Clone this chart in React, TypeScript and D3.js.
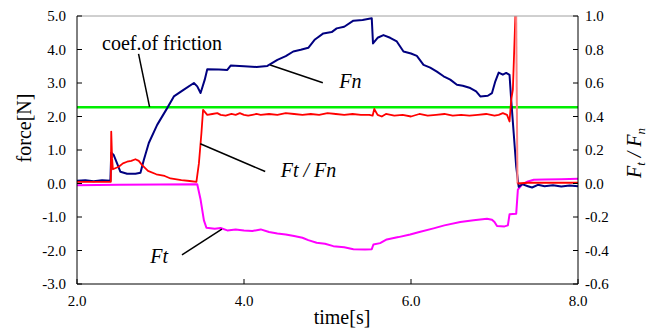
import React from "react";
import * as d3 from "d3";

// time [s], force [N]
const fnData: [number, number][] = [
  [2.0, 0.08], [2.1, 0.1], [2.2, 0.07], [2.3, 0.1], [2.4, 0.08],
  [2.41, 0.92], [2.44, 0.85], [2.48, 0.6], [2.52, 0.35], [2.6, 0.29],
  [2.7, 0.29], [2.76, 0.32], [2.8, 0.7], [2.86, 1.21], [2.96, 1.75],
  [3.08, 2.25], [3.16, 2.6], [3.28, 2.8], [3.4, 3.0], [3.44, 2.9],
  [3.48, 2.7], [3.53, 3.1], [3.56, 3.41], [3.7, 3.4], [3.8, 3.39],
  [3.84, 3.52], [4.0, 3.5], [4.15, 3.48], [4.28, 3.51], [4.4, 3.69],
  [4.5, 3.8], [4.59, 3.94], [4.68, 3.99], [4.77, 4.05], [4.85, 4.3],
  [4.95, 4.48], [5.05, 4.52], [5.11, 4.63], [5.2, 4.68], [5.31, 4.86],
  [5.42, 4.88], [5.53, 4.93], [5.545, 4.18], [5.6, 4.35], [5.67, 4.43],
  [5.75, 4.35], [5.83, 4.24], [5.91, 3.94], [6.0, 3.88], [6.07, 3.81],
  [6.15, 3.54], [6.23, 3.46], [6.31, 3.34], [6.39, 3.2], [6.47, 3.1],
  [6.55, 2.95], [6.62, 2.92], [6.71, 2.85], [6.78, 2.75], [6.83, 2.6],
  [6.92, 2.62], [6.97, 2.7], [7.01, 3.05], [7.05, 3.31], [7.1, 3.25],
  [7.14, 3.3], [7.18, 3.24], [7.2, 2.5], [7.23, 1.5], [7.26, 0.5],
  [7.29, -0.1], [7.33, -0.02], [7.4, -0.08], [7.45, -0.12], [7.52, -0.04],
  [7.6, -0.08], [7.7, -0.05], [7.8, -0.09], [7.9, -0.06], [8.0, -0.08],
];

// time [s], Ft/Fn [-]
const ratioData: [number, number][] = [
  [2.0, 0.01], [2.2, 0.01], [2.405, 0.01], [2.41, 0.31], [2.42, 0.15],
  [2.43, 0.085], [2.5, 0.1], [2.55, 0.12], [2.6, 0.13], [2.65, 0.135],
  [2.7, 0.145], [2.74, 0.135], [2.78, 0.11], [2.85, 0.075], [2.95, 0.055],
  [3.05, 0.045], [3.12, 0.03], [3.25, 0.02], [3.35, 0.015], [3.43, 0.01],
  [3.46, 0.12], [3.49, 0.3], [3.51, 0.44], [3.56, 0.41], [3.62, 0.415],
  [3.68, 0.42], [3.72, 0.41], [3.78, 0.405], [3.85, 0.415], [3.9, 0.41],
  [3.95, 0.42], [4.0, 0.41], [4.05, 0.405], [4.1, 0.41], [4.15, 0.415],
  [4.2, 0.41], [4.3, 0.415], [4.4, 0.41], [4.5, 0.42], [4.6, 0.415],
  [4.7, 0.41], [4.8, 0.415], [4.9, 0.41], [5.0, 0.42], [5.1, 0.415],
  [5.2, 0.41], [5.3, 0.415], [5.4, 0.41], [5.5, 0.41], [5.54, 0.405],
  [5.56, 0.445], [5.6, 0.41], [5.65, 0.4], [5.7, 0.415], [5.8, 0.405],
  [5.9, 0.41], [6.0, 0.4], [6.1, 0.415], [6.2, 0.405], [6.3, 0.41],
  [6.4, 0.415], [6.5, 0.405], [6.6, 0.41], [6.7, 0.405], [6.8, 0.41],
  [6.9, 0.415], [7.0, 0.405], [7.05, 0.41], [7.1, 0.42], [7.15, 0.41],
  [7.18, 0.37], [7.2, 0.5], [7.22, 0.56], [7.25, 1.0], [7.258, 1.1],
  [7.275, 0.0], [7.4, 0.005], [7.6, 0.005], [7.8, 0.005], [8.0, 0.005],
];

// time [s], force [N]
const ftData: [number, number][] = [
  [2.0, -0.05], [2.5, -0.04], [3.0, -0.03], [3.44, -0.02], [3.48, -0.48],
  [3.52, -1.1], [3.55, -1.32], [3.65, -1.35], [3.72, -1.33], [3.8, -1.4],
  [3.9, -1.37], [4.0, -1.4], [4.1, -1.42], [4.2, -1.37], [4.3, -1.45],
  [4.4, -1.49], [4.5, -1.52], [4.6, -1.57], [4.7, -1.62], [4.77, -1.69],
  [4.87, -1.77], [4.97, -1.8], [5.07, -1.87], [5.2, -1.9], [5.31, -1.96],
  [5.45, -1.97], [5.53, -1.96], [5.55, -1.82], [5.63, -1.78], [5.71, -1.67],
  [5.85, -1.6], [5.99, -1.52], [6.1, -1.45], [6.27, -1.34], [6.4, -1.25],
  [6.59, -1.15], [6.75, -1.1], [6.91, -1.05], [6.97, -1.08], [7.0, -1.15],
  [7.03, -1.27], [7.12, -1.28], [7.16, -1.25], [7.18, -0.92], [7.26, -0.9],
  [7.28, -0.18], [7.33, -0.03], [7.4, 0.06], [7.47, 0.11], [7.6, 0.12],
  [7.8, 0.13], [8.0, 0.14],
];

const coefFriction = 0.455;

const xTicks = [2, 4, 6, 8];
const leftTicks = [-3, -2, -1, 0, 1, 2, 3, 4, 5];
const rightTicks = [-0.6, -0.4, -0.2, 0, 0.2, 0.4, 0.6, 0.8, 1.0];

// labels with leader lines, in data units (time, force)
const notes = [
  { text: "coef.of friction", italic: false, tx: 2.3, ty: 3.99, from: [2.737, 3.87], to: [2.869, 2.29] },
  { text: "Fn", italic: true, tx: 5.14, ty: 2.86, from: [4.314, 3.537], to: [4.944, 3.01] },
  { text: "Ft / Fn", italic: true, tx: 4.44, ty: 0.2, from: [3.476, 1.185], to: [4.254, 0.358] },
  { text: "Ft", italic: true, tx: 2.877, ty: -2.36, from: [3.257, -2.13], to: [3.735, -1.36] },
];

const W = 661;
const H = 331;
const left = 77;
const right = 578;
const top = 16;
const bottom = 284;
const fmt = (v: number) => d3.format(".1f")(v).replace("\u2212", "-");

export default function App() {
  const x = d3.scaleLinear().domain([2, 8]).range([left, right]);
  const yL = d3.scaleLinear().domain([-3, 5]).range([bottom, top]);
  const yR = d3.scaleLinear().domain([-0.6, 1.0]).range([bottom, top]);

  const lineL = d3.line<[number, number]>().x((d) => x(d[0])).y((d) => yL(d[1]));
  const lineR = d3.line<[number, number]>().x((d) => x(d[0])).y((d) => yR(d[1]));

  // the drop after the ratio spike is drawn lighter
  const peak = d3.maxIndex(ratioData, (d) => d[1]);
  const ratioA = ratioData.slice(0, peak + 1);
  const ratioDrop = ratioData.slice(peak, peak + 2);
  const ratioB = ratioData.slice(peak + 1);

  return (
    <svg width={W} height={H}
      style={{ position: "absolute", left: 0, top: 0, background: "#fff", fontFamily: "Liberation Serif" }}>
      <defs>
        <clipPath id="plot">
          <rect x={left} y={top} width={right - left} height={bottom - top} />
        </clipPath>
      </defs>

      <g clipPath="url(#plot)" fill="none" strokeLinejoin="round">
        <line x1={left} x2={right} y1={yR(coefFriction)} y2={yR(coefFriction)} stroke="#00ee00" strokeWidth={2.5} />
        <path d={lineL(ftData) ?? ""} stroke="#ff00ff" strokeWidth={2} />
        <path d={lineL(fnData) ?? ""} stroke="#000080" strokeWidth={2} />
        <path d={lineR(ratioA) ?? ""} stroke="#ff0000" strokeWidth={1.8} />
        <path d={lineR(ratioDrop) ?? ""} stroke="#ff8080" strokeWidth={2} />
        <path d={lineR(ratioB) ?? ""} stroke="#ff0000" strokeWidth={2} />
      </g>

      {/* frame */}
      <line x1={left} x2={right} y1={top} y2={top} stroke="#a0a0a0" />
      <line x1={left} x2={left} y1={top} y2={bottom} stroke="#000" />
      <line x1={right} x2={right} y1={top} y2={bottom} stroke="#000" />
      <line x1={left} x2={right} y1={bottom} y2={bottom} stroke="#000" />

      {leftTicks.map((t) => (
        <g key={"l" + t}>
          <line x1={left} x2={left + 5} y1={yL(t)} y2={yL(t)} stroke="#000" />
          <text x={left - 11} y={yL(t)} dy="0.35em" textAnchor="end" fontSize={15}>{fmt(t)}</text>
        </g>
      ))}
      {rightTicks.map((t) => (
        <g key={"r" + t}>
          <line x1={right - 5} x2={right} y1={yR(t)} y2={yR(t)} stroke="#000" />
          <text x={right + 7} y={yR(t)} dy="0.35em" fontSize={15}>{fmt(t)}</text>
        </g>
      ))}
      {xTicks.map((t) => (
        <g key={"x" + t}>
          <line x1={x(t)} x2={x(t)} y1={bottom - 5} y2={bottom} stroke="#000" />
          <text x={x(t)} y={bottom + 22} textAnchor="middle" fontSize={15}>{fmt(t)}</text>
        </g>
      ))}

      <text x={342} y={324} textAnchor="middle" fontSize={20}>time[s]</text>
      <text transform="translate(31,128) rotate(-90)" textAnchor="middle" fontSize={20}>force[N]</text>
      <text transform="translate(641,153) rotate(-90)" textAnchor="middle" fontSize={20} fontStyle="italic">
        F<tspan fontSize={13} dy={4}>t</tspan><tspan dy={-4}> / F</tspan><tspan fontSize={13} dy={4}>n</tspan>
      </text>

      {notes.map((n) => (
        <g key={n.text}>
          <line x1={x(n.from[0])} y1={yL(n.from[1])} x2={x(n.to[0])} y2={yL(n.to[1])} stroke="#000" strokeWidth={1.5} />
          <text x={x(n.tx)} y={yL(n.ty)} fontSize={20} fontStyle={n.italic ? "italic" : "normal"}>{n.text}</text>
        </g>
      ))}
    </svg>
  );
}
